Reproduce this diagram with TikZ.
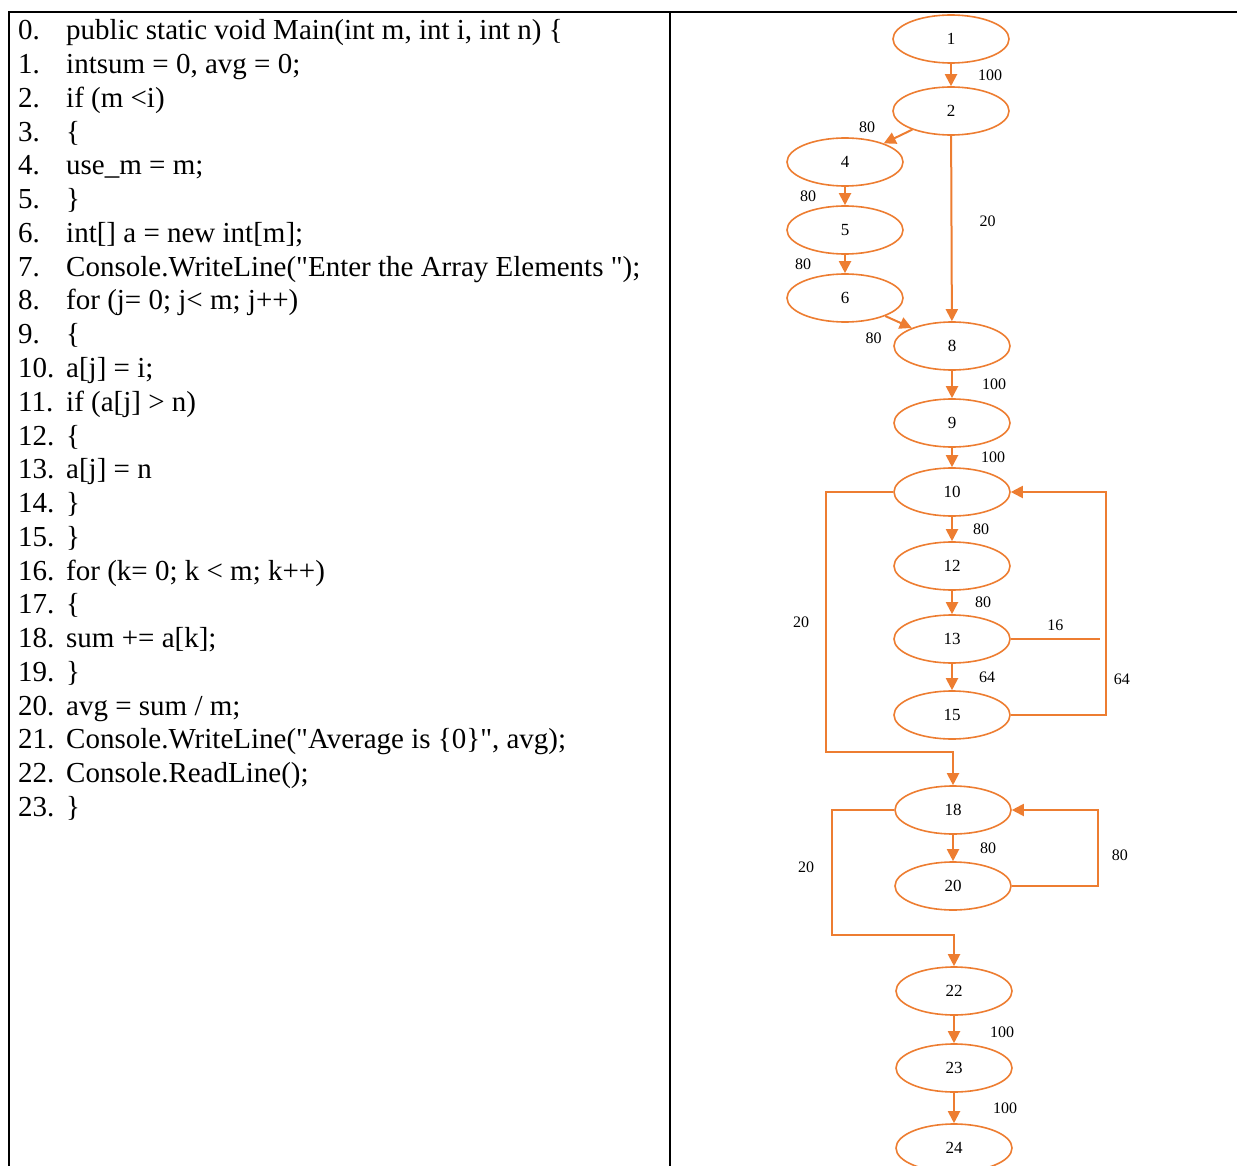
\documentclass[tikz,border=0pt]{standalone}
\usepackage{fontspec}
\setmainfont{Liberation Serif}
\usepackage{tikz}
\usetikzlibrary{arrows.meta,positioning,shapes.geometric}
\definecolor{CfgOrange}{HTML}{ED7D31}

\begin{document}
\begin{tikzpicture}[
            x=1pt, y=-1pt,
            blk/.style={ellipse, draw=CfgOrange, line width=1.6pt, minimum width=116pt, minimum height=48pt, inner sep=0pt, font=\fontsize{17}{19}\selectfont},
            flow/.style={-{Triangle[length=12pt, width=12pt]}, line width=2pt, draw=CfgOrange},
            wire/.style={line width=2pt, draw=CfgOrange},
            wt/.style={inner sep=1pt, font=\fontsize{16}{18}\selectfont},
            codeln/.style={anchor=base west, inner sep=0pt, font=\fontsize{29}{33}\selectfont},
            rule/.style={line width=2.4pt, draw=black},
        ]
        \useasboundingbox (0,0) rectangle (1237,1166);

        % table frame
        \draw[rule] (9,1166) -- (9,12) -- (1237,12);
        \draw[rule] (670,12) -- (670,1166);

        % source code
        \foreach \txt [count=\k from 0] in {
            {public static void Main(int m, int i, int n) \{},
            {intsum = 0, avg = 0;},
            {if (m <i)},
            {\{},
            {use\_m = m;},
            {\}},
            {int[] a = new int[m];},
            {Console.WriteLine(\textquotedbl Enter the Array Elements \textquotedbl);},
            {for (j= 0; j< m; j++)},
            {\{},
            {a[j] = i;},
            {if (a[j] > n)},
            {\{},
            {a[j] = n},
            {\}},
            {\}},
            {for (k= 0; k < m; k++)},
            {\{},
            {sum += a[k];},
            {\}},
            {avg = sum / m;},
            {Console.WriteLine(\textquotedbl Average is \{0\}\textquotedbl, avg);},
            {Console.ReadLine();},
            {\}}} {
            \node[codeln] (cn\k) at (18, 40+33.75*\k) {\k.};
            \node[codeln] (cl\k) at (66, 40+33.75*\k) {\txt};
        }

        % flow graph
        \node[blk] (n1) at (951,39) {1};
        \node[blk, below=22.4pt of n1] (n2) {2};
        \node[blk] (n4) at (845,162) {4};
        \node[blk, below=18.4pt of n4] (n5) {5};
        \node[blk, below=18.4pt of n5] (n6) {6};
        \node[blk] (n8) at (952,346) {8};
        \node[blk, below=27.4pt of n8] (n9) {9};
        \node[blk, below=19.4pt of n9] (n10) {10};
        \node[blk, below=24.4pt of n10] (n12) {12};
        \node[blk, below=23.4pt of n12] (n13) {13};
        \node[blk, below=26.4pt of n13] (n15) {15};
        \node[blk] (n18) at (953,810) {18};
        \node[blk, below=26.4pt of n18] (n20) {20};
        \node[blk] (n22) at (954,991) {22};
        \node[blk, below=27.4pt of n22] (n23) {23};
        \node[blk, below=30.4pt of n23] (n24) {24};
        \coordinate[right=89pt of n13.east] (j13);

        \draw[flow] (n1) -- node[wt, right=25pt]{100} (n2);
        \draw[flow] (n2) -- node[wt, xshift=-31pt, yshift=9pt]{80} (n4);
        \draw[flow] (n2) -- node[wt, right=26pt, yshift=7pt]{20} (n8);
        \draw[flow] (n4) -- node[wt, left=27pt]{80} (n5);
        \draw[flow] (n5) -- node[wt, left=32pt]{80} (n6);
        \draw[flow] (n6) -- node[wt, xshift=-25pt, yshift=-16pt]{80} (n8);
        \draw[flow] (n8) -- node[wt, right=28pt]{100} (n9);
        \draw[flow] (n9) -- node[wt, right=27pt]{100} (n10);
        \draw[flow] (n10) -- node[wt, right=19pt]{80} (n12);
        \draw[flow] (n12) -- node[wt, right=21pt]{80} (n13);
        \draw[flow] (n13) -- node[wt, right=25pt]{64} (n15);
        \draw[wire] (n13.east) -- node[wt, above=6pt]{16} (j13);
        \draw[flow] (n15.east) -- ++(95,0) |- node[wt, right=6pt, pos=0.08]{64} (n10.east);
        \draw[flow] (n10.west) -- ++(-67,0) -- node[wt, left=15pt]{20} ++(0,260) -| (n18.north);
        \draw[flow] (n18) -- node[wt, right=25pt]{80} (n20);
        \draw[flow] (n20.east) -- ++(86,0) |- node[wt, right=12pt, pos=0.2]{80} (n18.east);
        \draw[flow] (n18.west) -- ++(-62,0) -- node[wt, left=16pt, yshift=5pt]{20} ++(0,125) -| (n22.north);
        \draw[flow] (n22) -- node[wt, right=34pt, yshift=-3pt]{100} (n23);
        \draw[flow] (n23) -- node[wt, right=37pt]{100} (n24);
    \end{tikzpicture}
\end{document}
